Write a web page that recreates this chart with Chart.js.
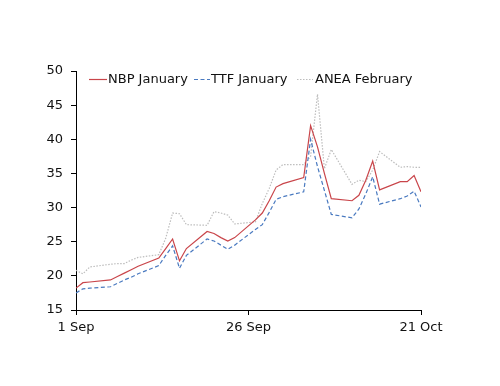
<!DOCTYPE html>
<html>
<head>
<meta charset="utf-8">
<script src="https://cdn.jsdelivr.net/npm/chart.js@4.4.1/dist/chart.umd.min.js"></script>
<style>
  html, body { margin: 0; padding: 0; background: #fff; }
  #wrap { position: relative; width: 500px; height: 386px; }
  .lg { position: absolute; top: 71px; font: 13px "DejaVu Sans", sans-serif; color: #111; white-space: nowrap; height: 16px; line-height: 16px; }
  svg.lgl { position: absolute; top: 71px; }
</style>
</head>
<body>
<div id="wrap">
  <canvas id="c" width="500" height="386"></canvas>
</div>
<script>
// Day offsets from 1 Sep (trading days)
const days = [0,1,2,5,6,7,8,9,12,13,14,15,16,19,20,21,22,23,26,27,28,29,30,33,34,35,36,37,40,41,42,43,44,47,48,49,50];
const nbpJanuary = [18.2,19.0,19.1,19.4,19.9,20.4,20.9,21.4,22.6,24.0,25.4,22.2,24.0,26.5,26.2,25.6,25.1,25.6,28.2,29.2,31.0,33.0,33.5,34.4,42.0,38.9,35.0,31.3,31.0,31.8,34.0,36.8,32.6,33.8,33.8,34.7,32.3];
const ttfJanuary = [17.5,18.1,18.2,18.4,18.9,19.4,19.8,20.3,21.5,23.0,24.4,21.1,23.0,25.4,25.1,24.5,23.9,24.5,26.8,27.5,29.3,31.2,31.6,32.3,40.0,36.0,32.5,29.0,28.5,29.8,32.0,34.5,30.5,31.3,31.7,32.4,30.1];
const aneaFebruary = [20.8,20.3,21.3,21.7,21.8,21.8,22.3,22.7,23.1,25.5,29.2,29.1,27.5,27.4,29.4,29.2,28.9,27.6,27.9,30.6,32.8,35.5,36.3,36.3,37.5,46.6,35.7,38.5,33.4,34.0,33.8,35.5,38.2,35.9,36.0,35.9,35.9];
const tickDays = [0,25,50];
const tickLabels = ['1 Sep','26 Sep','21 Oct'];
const seriesNames = ['NBP January','TTF January','ANEA February'];

const colors = ['#c9454a','#4a7ac0','#bdbdbd'];
const dashes = [[],[4,2.5],[1.5,1.5]];
const widths = [1.2,1.2,1.2];
const series = [nbpJanuary, ttfJanuary, aneaFebruary];

const datasets = series.map((vals, i) => ({
  label: seriesNames[i],
  data: vals.map((v, j) => ({x: days[j], y: v})),
  borderColor: colors[i],
  borderWidth: widths[i],
  borderDash: dashes[i],
  pointRadius: 0,
  tension: 0,
  fill: false
}));

const font = {family: '"DejaVu Sans", sans-serif', size: 13};

new Chart(document.getElementById('c'), {
  type: 'line',
  data: {datasets},
  options: {
    responsive: false,
    animation: false,
    devicePixelRatio: 1,
    layout: {padding: {left: 0, right: 79, top: 71, bottom: 0}},
    plugins: {legend: {display: false}, tooltip: {enabled: false}},
    scales: {
      x: {
        type: 'linear', min: 0, max: 50,
        afterBuildTicks: s => { s.ticks = tickDays.map(v => ({value: v})); },
        afterFit: s => { s.height = 76; },
        ticks: {font, color: '#111', padding: 5, maxRotation: 0,
          callback: (v) => { const k = tickDays.indexOf(v); return k >= 0 ? tickLabels[k] : ''; }},
        grid: {drawOnChartArea: false, drawTicks: true, tickLength: 5, color: '#000'},
        border: {color: '#000', width: 1}
      },
      y: {
        min: 15, max: 50,
        afterFit: s => { s.width = 76; },
        ticks: {font, color: '#111', stepSize: 5, padding: 8},
        grid: {drawOnChartArea: false, drawTicks: true, tickLength: 5, color: '#000'},
        border: {color: '#000', width: 1}
      }
    }
  }
});

// Legend (HTML text) overlaid at top of plot area
const wrap = document.getElementById('wrap');
const lineX = [89, 194, 297];
const lineW = [18, 16, 16];
const textX = [108, 211, 315];
const svgNS = 'http://www.w3.org/2000/svg';
seriesNames.forEach((name, i) => {
  const svg = document.createElementNS(svgNS, 'svg');
  svg.setAttribute('class', 'lgl');
  svg.setAttribute('width', String(lineW[i])); svg.setAttribute('height', '16');
  svg.style.left = lineX[i] + 'px';
  const ln = document.createElementNS(svgNS, 'line');
  ln.setAttribute('x1', '0'); ln.setAttribute('x2', String(lineW[i]));
  ln.setAttribute('y1', '8.5'); ln.setAttribute('y2', '8.5');
  ln.setAttribute('stroke', colors[i]); ln.setAttribute('stroke-width', '1.2');
  if (dashes[i].length) ln.setAttribute('stroke-dasharray', dashes[i].join(' '));
  svg.appendChild(ln);
  wrap.appendChild(svg);
  const t = document.createElement('div');
  t.className = 'lg';
  t.style.left = textX[i] + 'px';
  t.textContent = name;
  wrap.appendChild(t);
});
</script>
</body>
</html>
